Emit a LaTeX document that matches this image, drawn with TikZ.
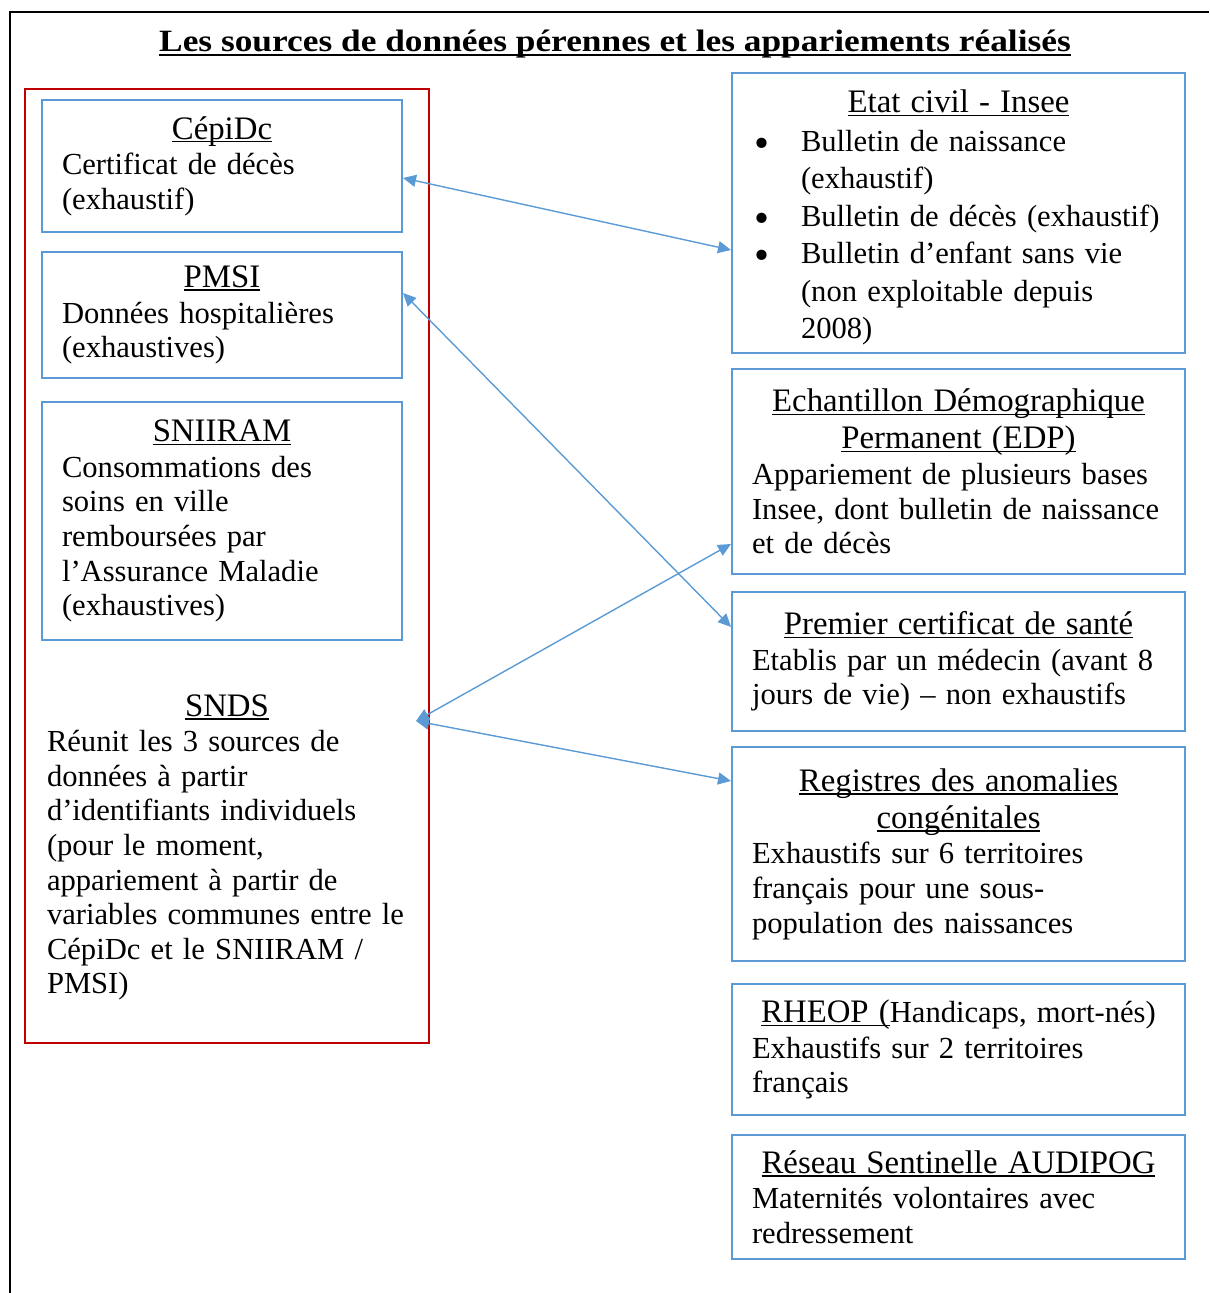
\documentclass[tikz,border=0pt]{standalone}
\usepackage{fontspec}
\usepackage{graphicx}
\setmainfont{Liberation Serif}
\newfontfamily\titlefont[FakeStretch=1.14]{Liberation Serif}
\usetikzlibrary{arrows.meta}
\definecolor{srcblue}{HTML}{5B9BD5}
\definecolor{frmred}{HTML}{C00000}
\newcommand\hdsize{\fontsize{16.4}{18.5}\selectfont}
\newcommand\bdsize{\fontsize{15.3}{17.3}\selectfont}
\newcommand\uln[1]{\leavevmode\setbox0\hbox{#1}\rlap{\rule[-1.7pt]{\wd0}{0.7pt}}\box0}
\newcommand\ulnt[1]{\leavevmode\setbox0\hbox{#1}\rlap{\rule[-2.2pt]{\wd0}{1pt}}\box0}
\newcommand\hd[1]{{\hdsize\centering #1\par}\vspace{0.5pt}}
\newcommand\bitem{\par\hangindent=24.5pt\hangafter=1\noindent\makebox[24.5pt][l]{\hspace{1pt}\raisebox{-3pt}[0pt][0pt]{\scalebox{1.4}{\textbullet}}}}

\begin{document}
\begin{tikzpicture}[x=0.5pt,y=-0.5pt,
  src node/.style={draw=srcblue,line width=1pt,anchor=north west,inner xsep=10pt,inner ysep=0pt,align=left,font=\bdsize},
  left node/.style={src node,text width=160pt},
  right node/.style={src node,text width=206.5pt},
  link/.style={draw,color=srcblue,line width=0.7pt,arrows={Triangle[length=6.5pt,width=6pt]-Triangle[length=6.5pt,width=6pt]}}]

\useasboundingbox (0,0) rectangle (1209,1293);
% frame of the page and group of the SNDS
\draw[line width=1pt] (10,1293) -- (10,12) -- (1209,12);
\draw[frmred,line width=1.25pt] (25,89) rectangle (429,1043);

\node[font=\titlefont\fontsize{15.5}{18}\selectfont\bfseries] (title) at (615,44)
  {\ulnt{Les sources de données pérennes et les appariements réalisés}};

% left column
\node[left node,minimum height=66pt] (cepidc) at (41,99)
  {\hd{\uln{CépiDc}}Certificat de décès\\(exhaustif)};
\node[left node,minimum height=63pt] (pmsi) at (41,251)
  {\hd{\uln{PMSI}}Données hospitalières\\(exhaustives)};
\node[left node,minimum height=119pt] (sniiram) at (41,401)
  {\hd{\uln{SNIIRAM}}Consommations des\\soins en ville\\remboursées par\\l’Assurance Maladie\\(exhaustives)};
\node[anchor=north,text width=180pt,inner sep=0pt,align=left,font=\bdsize] (snds) at (227,694)
  {\hd{\uln{SNDS}}Réunit les 3 sources de\\données à partir\\d’identifiants individuels\\(pour le moment,\\appariement à partir de\\variables communes entre le\\CépiDc et le SNIIRAM /\\PMSI)};
\coordinate (snds link) at (416,721);

% right column
\node[right node,minimum height=140pt] (etat) at (731,72)
  {\hd{\rule{0pt}{16pt}\uln{Etat civil - Insee}}\fontsize{15.3}{18.75}\selectfont
   \bitem Bulletin de naissance\newline(exhaustif)
   \bitem Bulletin de décès (exhaustif)
   \bitem Bulletin d’enfant sans vie\newline(non exploitable depuis\newline2008)\par};
\node[right node,minimum height=102.5pt] (edp) at (731,368)
  {\hd{\uln{Echantillon Démographique}\\\uln{Permanent (EDP)}}Appariement de plusieurs bases\\Insee, dont bulletin de naissance\\et de décès};
\node[right node,minimum height=69.5pt] (premier) at (731,591)
  {\hd{\uln{Premier certificat de santé}}Etablis par un médecin (avant 8\\jours de vie) – non exhaustifs};
\node[right node,minimum height=107pt] (registres) at (731,746)
  {\hd{\uln{Registres des anomalies}\\\uln{congénitales}}Exhaustifs sur 6 territoires\\français pour une sous-\\population des naissances};
\node[right node,minimum height=65.5pt] (rheop) at (731,983)
  {\hd{\uln{RHEOP (}{\bdsize Handicaps, mort-nés)}}Exhaustifs sur 2 territoires\\français};
\node[right node,minimum height=62pt] (audipog) at (731,1134)
  {\hd{\uln{Réseau Sentinelle AUDIPOG}}Maternités volontaires avec\\redressement};

\path
  ([yshift=-6pt]cepidc.east) edge[link] ([yshift=-18.5pt]etat.west)
  ([yshift=11pt]pmsi.east) edge[link] ([yshift=17.25pt]premier.west)
  (snds link) edge[link] ([yshift=-36.25pt]edp.west)
  (snds link) edge[link] ([yshift=36.5pt]registres.west)
;
\end{tikzpicture}
\end{document}
